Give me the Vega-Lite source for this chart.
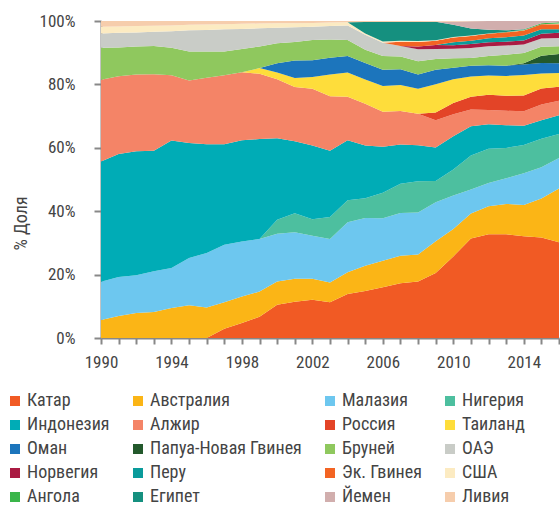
{
  "$schema": "https://vega.github.io/schema/vega-lite/v6.json",
  "width": 458,
  "height": 317,
  "autosize": {"type": "none"},
  "padding": {"left": 101, "top": 21, "right": 1, "bottom": 168},
  "background": "white",
  "config": {
    "view": {"stroke": null},
    "font": "Roboto Condensed, Liberation Sans Narrow, DejaVu Sans Condensed, Roboto, sans-serif",
    "axis": {"labelFontSize": 17, "labelColor": "#444444", "domainColor": "#888888", "tickColor": "#888888", "domainWidth": 2, "tickWidth": 2, "grid": false, "titleFontWeight": "normal", "titleColor": "#444444", "titleFontSize": 18},
    "legend": {"labelFontSize": 18, "labelColor": "#444444", "symbolType": "square", "symbolSize": 100, "symbolStrokeWidth": 0, "symbolOpacity": 1, "rowPadding": 6, "columnPadding": 19, "labelOffset": 3, "padding": 0, "offset": 0}
  },
  "data": {"values": [
    {"year":1996,"country":"Катар","share":0},{"year":1997,"country":"Катар","share":2.9},{"year":1998,"country":"Катар","share":4.7},{"year":1999,"country":"Катар","share":6.7},{"year":2000,"country":"Катар","share":10.4},{"year":2001,"country":"Катар","share":11.4},{"year":2002,"country":"Катар","share":12.0},{"year":2003,"country":"Катар","share":11.2},{"year":2004,"country":"Катар","share":13.8},{"year":2005,"country":"Катар","share":14.8},{"year":2006,"country":"Катар","share":15.9},{"year":2007,"country":"Катар","share":17.2},{"year":2008,"country":"Катар","share":17.7},{"year":2009,"country":"Катар","share":20.4},{"year":2010,"country":"Катар","share":25.6},{"year":2011,"country":"Катар","share":31.1},{"year":2012,"country":"Катар","share":32.4},{"year":2013,"country":"Катар","share":32.4},{"year":2014,"country":"Катар","share":31.7},{"year":2015,"country":"Катар","share":31.4},{"year":2016,"country":"Катар","share":30.0},
    {"year":1990,"country":"Австралия","share":5.7},{"year":1991,"country":"Австралия","share":6.9},{"year":1992,"country":"Австралия","share":7.8},{"year":1993,"country":"Австралия","share":8.1},{"year":1994,"country":"Австралия","share":9.4},{"year":1995,"country":"Австралия","share":10.3},{"year":1996,"country":"Австралия","share":9.6},{"year":1997,"country":"Австралия","share":8.3},{"year":1998,"country":"Австралия","share":8.3},{"year":1999,"country":"Австралия","share":7.9},{"year":2000,"country":"Австралия","share":7.3},{"year":2001,"country":"Австралия","share":7.2},{"year":2002,"country":"Австралия","share":6.6},{"year":2003,"country":"Австралия","share":6.2},{"year":2004,"country":"Австралия","share":6.8},{"year":2005,"country":"Австралия","share":7.9},{"year":2006,"country":"Австралия","share":8.3},{"year":2007,"country":"Австралия","share":8.6},{"year":2008,"country":"Австралия","share":8.5},{"year":2009,"country":"Австралия","share":9.9},{"year":2010,"country":"Австралия","share":8.6},{"year":2011,"country":"Австралия","share":7.8},{"year":2012,"country":"Австралия","share":8.7},{"year":2013,"country":"Австралия","share":9.5},{"year":2014,"country":"Австралия","share":9.8},{"year":2015,"country":"Австралия","share":12.2},{"year":2016,"country":"Австралия","share":16.8},
    {"year":1990,"country":"Малазия","share":12.0},{"year":1991,"country":"Малазия","share":12.2},{"year":1992,"country":"Малазия","share":11.8},{"year":1993,"country":"Малазия","share":12.8},{"year":1994,"country":"Малазия","share":12.5},{"year":1995,"country":"Малазия","share":14.8},{"year":1996,"country":"Малазия","share":17.1},{"year":1997,"country":"Малазия","share":18.1},{"year":1998,"country":"Малазия","share":17.3},{"year":1999,"country":"Малазия","share":16.5},{"year":2000,"country":"Малазия","share":15.0},{"year":2001,"country":"Малазия","share":14.6},{"year":2002,"country":"Малазия","share":13.5},{"year":2003,"country":"Малазия","share":13.7},{"year":2004,"country":"Малазия","share":15.7},{"year":2005,"country":"Малазия","share":15.0},{"year":2006,"country":"Малазия","share":13.3},{"year":2007,"country":"Малазия","share":13.4},{"year":2008,"country":"Малазия","share":13.2},{"year":2009,"country":"Малазия","share":12.3},{"year":2010,"country":"Малазия","share":10.5},{"year":2011,"country":"Малазия","share":7.5},{"year":2012,"country":"Малазия","share":7.3},{"year":2013,"country":"Малазия","share":8.0},{"year":2014,"country":"Малазия","share":9.9},{"year":2015,"country":"Малазия","share":9.8},{"year":2016,"country":"Малазия","share":9.6},
    {"year":1999,"country":"Нигерия","share":0},{"year":2000,"country":"Нигерия","share":4.4},{"year":2001,"country":"Нигерия","share":6.0},{"year":2002,"country":"Нигерия","share":5.2},{"year":2003,"country":"Нигерия","share":6.9},{"year":2004,"country":"Нигерия","share":6.9},{"year":2005,"country":"Нигерия","share":6.2},{"year":2006,"country":"Нигерия","share":8.0},{"year":2007,"country":"Нигерия","share":9.2},{"year":2008,"country":"Нигерия","share":9.8},{"year":2009,"country":"Нигерия","share":6.6},{"year":2010,"country":"Нигерия","share":8.2},{"year":2011,"country":"Нигерия","share":10.6},{"year":2012,"country":"Нигерия","share":10.7},{"year":2013,"country":"Нигерия","share":9.5},{"year":2014,"country":"Нигерия","share":8.8},{"year":2015,"country":"Нигерия","share":8.9},{"year":2016,"country":"Нигерия","share":7.5},
    {"year":1990,"country":"Индонезия","share":37.8},{"year":1991,"country":"Индонезия","share":38.5},{"year":1992,"country":"Индонезия","share":38.8},{"year":1993,"country":"Индонезия","share":37.7},{"year":1994,"country":"Индонезия","share":39.9},{"year":1995,"country":"Индонезия","share":36.1},{"year":1996,"country":"Индонезия","share":34.1},{"year":1997,"country":"Индонезия","share":31.5},{"year":1998,"country":"Индонезия","share":31.8},{"year":1999,"country":"Индонезия","share":31.4},{"year":2000,"country":"Индонезия","share":25.6},{"year":2001,"country":"Индонезия","share":22.6},{"year":2002,"country":"Индонезия","share":23.1},{"year":2003,"country":"Индонезия","share":20.8},{"year":2004,"country":"Индонезия","share":18.9},{"year":2005,"country":"Индонезия","share":16.6},{"year":2006,"country":"Индонезия","share":14.4},{"year":2007,"country":"Индонезия","share":12.3},{"year":2008,"country":"Индонезия","share":11.3},{"year":2009,"country":"Индонезия","share":10.5},{"year":2010,"country":"Индонезия","share":10.4},{"year":2011,"country":"Индонезия","share":9.2},{"year":2012,"country":"Индонезия","share":7.6},{"year":2013,"country":"Индонезия","share":7.1},{"year":2014,"country":"Индонезия","share":6.0},{"year":2015,"country":"Индонезия","share":5.8},{"year":2016,"country":"Индонезия","share":5.9},
    {"year":1990,"country":"Алжир","share":25.7},{"year":1991,"country":"Алжир","share":24.3},{"year":1992,"country":"Алжир","share":24.0},{"year":1993,"country":"Алжир","share":23.9},{"year":1994,"country":"Алжир","share":20.4},{"year":1995,"country":"Алжир","share":19.6},{"year":1996,"country":"Алжир","share":20.9},{"year":1997,"country":"Алжир","share":21.7},{"year":1998,"country":"Алжир","share":21.4},{"year":1999,"country":"Алжир","share":20.5},{"year":2000,"country":"Алжир","share":18.5},{"year":2001,"country":"Алжир","share":17.1},{"year":2002,"country":"Алжир","share":17.8},{"year":2003,"country":"Алжир","share":17.1},{"year":2004,"country":"Алжир","share":13.6},{"year":2005,"country":"Алжир","share":13.1},{"year":2006,"country":"Алжир","share":11.0},{"year":2007,"country":"Алжир","share":10.5},{"year":2008,"country":"Алжир","share":9.9},{"year":2009,"country":"Алжир","share":8.6},{"year":2010,"country":"Алжир","share":6.9},{"year":2011,"country":"Алжир","share":5.2},{"year":2012,"country":"Алжир","share":4.5},{"year":2013,"country":"Алжир","share":4.5},{"year":2014,"country":"Алжир","share":4.5},{"year":2015,"country":"Алжир","share":4.9},{"year":2016,"country":"Алжир","share":4.5},
    {"year":2008,"country":"Россия","share":0},{"year":2009,"country":"Россия","share":2.4},{"year":2010,"country":"Россия","share":3.6},{"year":2011,"country":"Россия","share":4.0},{"year":2012,"country":"Россия","share":4.7},{"year":2013,"country":"Россия","share":4.7},{"year":2014,"country":"Россия","share":4.9},{"year":2015,"country":"Россия","share":5.0},{"year":2016,"country":"Россия","share":4.4},
    {"year":1998,"country":"Таиланд","share":0},{"year":1999,"country":"Таиланд","share":1.8},{"year":2000,"country":"Таиланд","share":2.1},{"year":2001,"country":"Таиланд","share":2.8},{"year":2002,"country":"Таиланд","share":3.7},{"year":2003,"country":"Таиланд","share":6.8},{"year":2004,"country":"Таиланд","share":7.6},{"year":2005,"country":"Таиланд","share":7.6},{"year":2006,"country":"Таиланд","share":8.0},{"year":2007,"country":"Таиланд","share":8.1},{"year":2008,"country":"Таиланд","share":7.8},{"year":2009,"country":"Таиланд","share":8.9},{"year":2010,"country":"Таиланд","share":7.4},{"year":2011,"country":"Таиланд","share":6.3},{"year":2012,"country":"Таиланд","share":6.0},{"year":2013,"country":"Таиланд","share":6.2},{"year":2014,"country":"Таиланд","share":6.4},{"year":2015,"country":"Таиланд","share":4.7},{"year":2016,"country":"Таиланд","share":4.3},
    {"year":1999,"country":"Оман","share":0},{"year":2000,"country":"Оман","share":2.9},{"year":2001,"country":"Оман","share":5.5},{"year":2002,"country":"Оман","share":5.3},{"year":2003,"country":"Оман","share":5.3},{"year":2004,"country":"Оман","share":5.2},{"year":2005,"country":"Оман","share":5.2},{"year":2006,"country":"Оман","share":5.1},{"year":2007,"country":"Оман","share":5.0},{"year":2008,"country":"Оман","share":4.5},{"year":2009,"country":"Оман","share":4.5},{"year":2010,"country":"Оман","share":3.6},{"year":2011,"country":"Оман","share":3.4},{"year":2012,"country":"Оман","share":3.2},{"year":2013,"country":"Оман","share":3.2},{"year":2014,"country":"Оман","share":3.3},{"year":2015,"country":"Оман","share":3.3},{"year":2016,"country":"Оман","share":3.1},
    {"year":2013,"country":"Папуа-Новая Гвинея","share":0},{"year":2014,"country":"Папуа-Новая Гвинея","share":0.4},{"year":2015,"country":"Папуа-Новая Гвинея","share":2.3},{"year":2016,"country":"Папуа-Новая Гвинея","share":2.9},
    {"year":1990,"country":"Бруней","share":10.1},{"year":1991,"country":"Бруней","share":9.0},{"year":1992,"country":"Бруней","share":8.7},{"year":1993,"country":"Бруней","share":8.9},{"year":1994,"country":"Бруней","share":8.6},{"year":1995,"country":"Бруней","share":9.1},{"year":1996,"country":"Бруней","share":8.2},{"year":1997,"country":"Бруней","share":7.4},{"year":1998,"country":"Бруней","share":7.3},{"year":1999,"country":"Бруней","share":6.8},{"year":2000,"country":"Бруней","share":6.3},{"year":2001,"country":"Бруней","share":5.8},{"year":2002,"country":"Бруней","share":6.3},{"year":2003,"country":"Бруней","share":5.7},{"year":2004,"country":"Бруней","share":5.0},{"year":2005,"country":"Бруней","share":4.2},{"year":2006,"country":"Бруней","share":4.3},{"year":2007,"country":"Бруней","share":4.0},{"year":2008,"country":"Бруней","share":4.2},{"year":2009,"country":"Бруней","share":3.4},{"year":2010,"country":"Бруней","share":3.0},{"year":2011,"country":"Бруней","share":2.4},{"year":2012,"country":"Бруней","share":2.9},{"year":2013,"country":"Бруней","share":3.4},{"year":2014,"country":"Бруней","share":3.2},{"year":2015,"country":"Бруней","share":2.8},{"year":2016,"country":"Бруней","share":2.4},
    {"year":1990,"country":"ОАЭ","share":4.5},{"year":1991,"country":"ОАЭ","share":4.6},{"year":1992,"country":"ОАЭ","share":4.4},{"year":1993,"country":"ОАЭ","share":4.4},{"year":1994,"country":"ОАЭ","share":5.2},{"year":1995,"country":"ОАЭ","share":6.7},{"year":1996,"country":"ОАЭ","share":6.8},{"year":1997,"country":"ОАЭ","share":7.0},{"year":1998,"country":"ОАЭ","share":6.3},{"year":1999,"country":"ОАЭ","share":5.7},{"year":2000,"country":"ОАЭ","share":4.9},{"year":2001,"country":"ОАЭ","share":4.6},{"year":2002,"country":"ОАЭ","share":4.2},{"year":2003,"country":"ОАЭ","share":4.2},{"year":2004,"country":"ОАЭ","share":4.6},{"year":2005,"country":"ОАЭ","share":4.7},{"year":2006,"country":"ОАЭ","share":4.2},{"year":2007,"country":"ОАЭ","share":3.3},{"year":2008,"country":"ОАЭ","share":3.7},{"year":2009,"country":"ОАЭ","share":3.1},{"year":2010,"country":"ОАЭ","share":3.0},{"year":2011,"country":"ОАЭ","share":3.1},{"year":2012,"country":"ОАЭ","share":3.1},{"year":2013,"country":"ОАЭ","share":2.9},{"year":2014,"country":"ОАЭ","share":2.6},{"year":2015,"country":"ОАЭ","share":2.6},{"year":2016,"country":"ОАЭ","share":2.6},
    {"year":2007,"country":"Норвегия","share":0},{"year":2008,"country":"Норвегия","share":0.9},{"year":2009,"country":"Норвегия","share":1.3},{"year":2010,"country":"Норвегия","share":1.1},{"year":2011,"country":"Норвегия","share":1.3},{"year":2012,"country":"Норвегия","share":1.2},{"year":2013,"country":"Норвегия","share":1.2},{"year":2014,"country":"Норвегия","share":1.3},{"year":2015,"country":"Норвегия","share":1.5},{"year":2016,"country":"Норвегия","share":1.6},
    {"year":2009,"country":"Перу","share":0},{"year":2010,"country":"Перу","share":0.9},{"year":2011,"country":"Перу","share":1.0},{"year":2012,"country":"Перу","share":1.3},{"year":2013,"country":"Перу","share":1.4},{"year":2014,"country":"Перу","share":1.5},{"year":2015,"country":"Перу","share":1.4},{"year":2016,"country":"Перу","share":1.1},
    {"year":2006,"country":"Эк. Гвинея","share":0},{"year":2007,"country":"Эк. Гвинея","share":1.3},{"year":2008,"country":"Эк. Гвинея","share":1.4},{"year":2009,"country":"Эк. Гвинея","share":1.3},{"year":2010,"country":"Эк. Гвинея","share":1.5},{"year":2011,"country":"Эк. Гвинея","share":1.5},{"year":2012,"country":"Эк. Гвинея","share":1.4},{"year":2013,"country":"Эк. Гвинея","share":1.5},{"year":2014,"country":"Эк. Гвинея","share":1.6},{"year":2015,"country":"Эк. Гвинея","share":1.5},{"year":2016,"country":"Эк. Гвинея","share":1.6},
    {"year":1990,"country":"США","share":2.1},{"year":1991,"country":"США","share":2.0},{"year":1992,"country":"США","share":2.0},{"year":1993,"country":"США","share":1.9},{"year":1994,"country":"США","share":1.8},{"year":1995,"country":"США","share":1.7},{"year":1996,"country":"США","share":1.7},{"year":1997,"country":"США","share":1.6},{"year":1998,"country":"США","share":1.6},{"year":1999,"country":"США","share":1.5},{"year":2000,"country":"США","share":1.4},{"year":2001,"country":"США","share":1.3},{"year":2002,"country":"США","share":1.2},{"year":2003,"country":"США","share":1.1},{"year":2004,"country":"США","share":1.0},{"year":2005,"country":"США","share":0.4},{"year":2006,"country":"США","share":0.4},{"year":2007,"country":"США","share":0.3},{"year":2008,"country":"США","share":0.3},{"year":2009,"country":"США","share":0.2},{"year":2010,"country":"США","share":0.2},{"year":2011,"country":"США","share":0.1},{"year":2012,"country":"США","share":0.05},{"year":2013,"country":"США","share":0.05},{"year":2014,"country":"США","share":0.05},{"year":2015,"country":"США","share":0.05},{"year":2016,"country":"США","share":0.2},
    {"year":2012,"country":"Ангола","share":0},{"year":2013,"country":"Ангола","share":0.1},{"year":2014,"country":"Ангола","share":0.2},{"year":2015,"country":"Ангола","share":0.3},{"year":2016,"country":"Ангола","share":0.4},
    {"year":2004,"country":"Египет","share":0},{"year":2005,"country":"Египет","share":3.6},{"year":2006,"country":"Египет","share":6.1},{"year":2007,"country":"Египет","share":5.9},{"year":2008,"country":"Египет","share":6.0},{"year":2009,"country":"Египет","share":5.8},{"year":2010,"country":"Египет","share":3.8},{"year":2011,"country":"Египет","share":2.2},{"year":2012,"country":"Египет","share":1.2},{"year":2013,"country":"Египет","share":0.5},{"year":2014,"country":"Египет","share":0.1},{"year":2015,"country":"Египет","share":0},
    {"year":2009,"country":"Йемен","share":0},{"year":2010,"country":"Йемен","share":1.0},{"year":2011,"country":"Йемен","share":2.3},{"year":2012,"country":"Йемен","share":2.7},{"year":2013,"country":"Йемен","share":2.9},{"year":2014,"country":"Йемен","share":2.6},{"year":2015,"country":"Йемен","share":0.7},{"year":2016,"country":"Йемен","share":0.4},
    {"year":1990,"country":"Ливия","share":1.8},{"year":1991,"country":"Ливия","share":1.7},{"year":1992,"country":"Ливия","share":1.6},{"year":1993,"country":"Ливия","share":1.5},{"year":1994,"country":"Ливия","share":1.4},{"year":1995,"country":"Ливия","share":1.2},{"year":1996,"country":"Ливия","share":1.1},{"year":1997,"country":"Ливия","share":1.0},{"year":1998,"country":"Ливия","share":0.9},{"year":1999,"country":"Ливия","share":0.8},{"year":2000,"country":"Ливия","share":0.7},{"year":2001,"country":"Ливия","share":0.7},{"year":2002,"country":"Ливия","share":0.6},{"year":2003,"country":"Ливия","share":0.5},{"year":2004,"country":"Ливия","share":0.4},{"year":2005,"country":"Ливия","share":0.3},{"year":2006,"country":"Ливия","share":0.3},{"year":2007,"country":"Ливия","share":0.3},{"year":2008,"country":"Ливия","share":0.3},{"year":2009,"country":"Ливия","share":0.2},{"year":2010,"country":"Ливия","share":0.2},{"year":2011,"country":"Ливия","share":0.05},{"year":2012,"country":"Ливия","share":0}
  ]},
  "transform": [
    {"calculate": "indexof(['Катар','Австралия','Малазия','Нигерия','Индонезия','Алжир','Россия','Таиланд','Оман','Папуа-Новая Гвинея','Бруней','ОАЭ','Норвегия','Перу','Эк. Гвинея','США','Ангола','Египет','Йемен','Ливия'], datum.country)", "as": "stackRank"}
  ],
  "mark": {"type": "area", "interpolate": "linear"},
  "encoding": {
    "x": {
      "field": "year", "type": "quantitative",
      "scale": {"domain": [1990, 2016], "nice": false, "zero": false},
      "axis": {"title": null, "values": [1990,1991,1992,1993,1994,1995,1996,1997,1998,1999,2000,2001,2002,2003,2004,2005,2006,2007,2008,2009,2010,2011,2012,2013,2014,2015,2016], "format": "d", "labelExpr": "datum.value % 4 == 2 ? datum.label : ''", "tickSize": 6, "labelPadding": 10, "labelFlush": false, "labelOverlap": false}
    },
    "y": {
      "field": "share", "type": "quantitative", "stack": "normalize",
      "scale": {"domain": [0, 1], "nice": false},
      "axis": {"title": "% Доля", "values": [0, 0.2, 0.4, 0.6, 0.8, 1], "format": ".0%", "tickSize": 7, "labelPadding": 19, "titleAngle": -90, "titleAlign": "center", "titleBaseline": "middle", "titleX": -80, "titleY": 202}
    },
    "order": {"field": "stackRank", "type": "quantitative", "sort": "ascending"},
    "color": {
      "field": "country", "type": "nominal",
      "sort": ["Катар","Австралия","Малазия","Нигерия","Индонезия","Алжир","Россия","Таиланд","Оман","Папуа-Новая Гвинея","Бруней","ОАЭ","Норвегия","Перу","Эк. Гвинея","США","Ангола","Египет","Йемен","Ливия"],
      "scale": {
        "domain": ["Катар","Австралия","Малазия","Нигерия","Индонезия","Алжир","Россия","Таиланд","Оман","Папуа-Новая Гвинея","Бруней","ОАЭ","Норвегия","Перу","Эк. Гвинея","США","Ангола","Египет","Йемен","Ливия"],
        "range": ["#F15A24","#FBB516","#6DC7EF","#4DBF9F","#00ACB6","#F48467","#E34427","#FEDD3B","#1C75BC","#23592C","#8FC85E","#C9CCC7","#AA1B43","#0A9B9B","#F36423","#FCEBC2","#3AB54A","#15907F","#D1AEAD","#F6CDAC"]
      },
      "legend": {"title": null, "orient": "none", "legendX": -95, "legendY": 371, "columns": 4, "direction": "horizontal"}
    }
  }
}
